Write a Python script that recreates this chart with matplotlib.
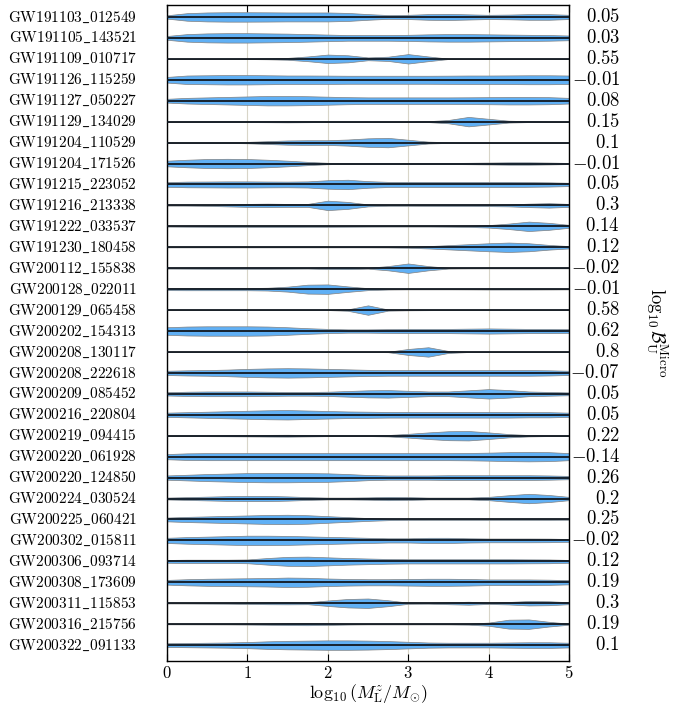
import numpy as np
import matplotlib.pyplot as plt
from matplotlib import transforms

plt.rcParams['mathtext.fontset'] = 'cm'
plt.rcParams['font.family'] = 'serif'

events = ["GW191103_012549", "GW191105_143521", "GW191109_010717", "GW191126_115259",
          "GW191127_050227", "GW191129_134029", "GW191204_110529", "GW191204_171526",
          "GW191215_223052", "GW191216_213338", "GW191222_033537", "GW191230_180458",
          "GW200112_155838", "GW200128_022011", "GW200129_065458", "GW200202_154313",
          "GW200208_130117", "GW200208_222618", "GW200209_085452", "GW200216_220804",
          "GW200219_094415", "GW200220_061928", "GW200220_124850", "GW200224_030524",
          "GW200225_060421", "GW200302_015811", "GW200306_093714", "GW200308_173609",
          "GW200311_115853", "GW200316_215756", "GW200322_091133"]
log_bf = [0.05, 0.03, 0.55, -0.01, 0.08, 0.15, 0.1, -0.01, 0.05, 0.3, 0.14, 0.12,
          -0.02, -0.01, 0.58, 0.62, 0.8, -0.07, 0.05, 0.05, 0.22, -0.14, 0.26, 0.2,
          0.25, -0.02, 0.12, 0.19, 0.3, 0.19, 0.1]

# log10 lens mass grid, densities (relative, per event)
mass_grid = np.arange(0, 5.01, 0.25)
density = [
    [0.35, 0.8, 0.95, 1.0, 1.0, 0.98, 0.95, 0.95, 0.95, 0.85, 0.6, 0.4, 0.45, 0.6, 0.65, 0.55, 0.45, 0.5, 0.6, 0.6, 0.45],
    [0.4, 0.8, 0.95, 1.0, 1.0, 0.95, 0.9, 0.8, 0.7, 0.6, 0.6, 0.6, 0.65, 0.75, 0.8, 0.8, 0.75, 0.7, 0.65, 0.6, 0.5],
    [0, 0, 0, 0.02, 0.05, 0.1, 0.2, 0.5, 0.9, 0.75, 0.3, 0.45, 1.0, 0.5, 0.05, 0, 0, 0, 0, 0, 0],
    [0.6, 0.9, 0.95, 1.0, 1.0, 0.95, 0.9, 0.9, 0.88, 0.85, 0.85, 0.85, 0.85, 0.85, 0.87, 0.9, 0.9, 0.92, 0.95, 0.95, 0.9],
    [0.4, 0.6, 0.7, 0.8, 0.9, 1.0, 1.0, 0.95, 0.85, 0.75, 0.7, 0.7, 0.7, 0.7, 0.7, 0.72, 0.75, 0.8, 0.8, 0.75, 0.6],
    [0.02, 0.05, 0.08, 0.1, 0.1, 0.12, 0.15, 0.12, 0.08, 0.05, 0.04, 0.04, 0.05, 0.1, 0.35, 1.0, 0.6, 0.2, 0.1, 0.05, 0.02],
    [0.02, 0.03, 0.05, 0.08, 0.15, 0.3, 0.45, 0.5, 0.5, 0.65, 0.9, 1.0, 0.6, 0.2, 0.08, 0.05, 0.04, 0.03, 0.03, 0.03, 0.02],
    [0.6, 0.8, 0.95, 1.0, 0.95, 0.8, 0.6, 0.35, 0.15, 0.08, 0.06, 0.06, 0.08, 0.1, 0.12, 0.15, 0.2, 0.25, 0.25, 0.2, 0.12],
    [0.5, 0.6, 0.62, 0.65, 0.65, 0.62, 0.6, 0.65, 0.9, 1.0, 0.7, 0.55, 0.55, 0.55, 0.55, 0.55, 0.55, 0.55, 0.5, 0.45, 0.35],
    [0.03, 0.05, 0.1, 0.2, 0.3, 0.35, 0.3, 0.3, 0.95, 0.7, 0.2, 0.08, 0.08, 0.1, 0.12, 0.12, 0.15, 0.2, 0.35, 0.45, 0.3],
    [0.05, 0.08, 0.1, 0.12, 0.12, 0.12, 0.12, 0.1, 0.1, 0.08, 0.06, 0.05, 0.05, 0.05, 0.08, 0.12, 0.25, 0.55, 0.95, 0.7, 0.3],
    [0.02, 0.02, 0.02, 0.02, 0.02, 0.02, 0.02, 0.02, 0.02, 0.02, 0.03, 0.05, 0.1, 0.25, 0.45, 0.65, 0.85, 1.0, 0.85, 0.5, 0.25],
    [0.08, 0.1, 0.12, 0.12, 0.12, 0.12, 0.1, 0.08, 0.18, 0.2, 0.1, 0.45, 1.0, 0.45, 0.08, 0.05, 0.04, 0.04, 0.04, 0.03, 0.03],
    [0.2, 0.22, 0.22, 0.22, 0.22, 0.28, 0.5, 0.9, 0.95, 0.55, 0.2, 0.08, 0.05, 0.05, 0.05, 0.06, 0.08, 0.08, 0.08, 0.07, 0.05],
    [0, 0, 0, 0, 0, 0, 0, 0, 0, 0.15, 1.0, 0.12, 0.05, 0.02, 0, 0, 0, 0, 0, 0, 0],
    [0.8, 0.95, 1.0, 1.0, 1.0, 0.95, 0.8, 0.6, 0.45, 0.35, 0.35, 0.4, 0.45, 0.45, 0.45, 0.5, 0.55, 0.5, 0.45, 0.45, 0.4],
    [0, 0, 0, 0, 0, 0, 0, 0, 0, 0, 0, 0.05, 0.6, 0.95, 0.2, 0.02, 0, 0, 0, 0, 0],
    [0.45, 0.55, 0.6, 0.7, 0.85, 0.95, 1.0, 0.95, 0.85, 0.75, 0.65, 0.6, 0.6, 0.6, 0.6, 0.6, 0.6, 0.6, 0.6, 0.55, 0.45],
    [0.35, 0.45, 0.5, 0.5, 0.5, 0.45, 0.4, 0.4, 0.45, 0.6, 0.75, 0.8, 0.65, 0.5, 0.5, 0.75, 1.0, 0.8, 0.5, 0.4, 0.3],
    [0.45, 0.55, 0.65, 0.75, 0.85, 0.95, 1.0, 0.9, 0.8, 0.7, 0.65, 0.6, 0.6, 0.6, 0.6, 0.6, 0.6, 0.6, 0.55, 0.55, 0.45],
    [0.05, 0.08, 0.1, 0.12, 0.15, 0.18, 0.2, 0.15, 0.1, 0.08, 0.08, 0.15, 0.4, 0.7, 0.95, 1.0, 0.7, 0.35, 0.15, 0.08, 0.05],
    [0.55, 0.7, 0.75, 0.75, 0.75, 0.75, 0.75, 0.75, 0.75, 0.75, 0.75, 0.75, 0.75, 0.75, 0.75, 0.78, 0.85, 0.95, 1.0, 0.95, 0.75],
    [0.45, 0.6, 0.75, 0.85, 0.95, 1.0, 1.0, 0.95, 0.9, 0.75, 0.55, 0.45, 0.45, 0.45, 0.5, 0.5, 0.5, 0.5, 0.5, 0.45, 0.35],
    [0.2, 0.3, 0.4, 0.5, 0.55, 0.55, 0.45, 0.3, 0.2, 0.2, 0.25, 0.35, 0.3, 0.2, 0.2, 0.2, 0.35, 0.7, 1.0, 0.75, 0.35],
    [0.4, 0.55, 0.65, 0.75, 0.85, 0.95, 1.0, 0.9, 0.7, 0.5, 0.3, 0.15, 0.1, 0.08, 0.08, 0.08, 0.08, 0.08, 0.08, 0.08, 0.06],
    [0.55, 0.7, 0.8, 0.9, 1.0, 1.0, 0.95, 0.85, 0.75, 0.65, 0.55, 0.45, 0.45, 0.55, 0.55, 0.45, 0.4, 0.4, 0.4, 0.38, 0.3],
    [0.3, 0.35, 0.35, 0.35, 0.4, 0.7, 0.95, 1.0, 0.85, 0.7, 0.6, 0.5, 0.45, 0.45, 0.45, 0.45, 0.45, 0.45, 0.42, 0.4, 0.3],
    [0.5, 0.65, 0.75, 0.8, 0.85, 0.9, 1.0, 0.95, 0.8, 0.7, 0.65, 0.65, 0.7, 0.75, 0.75, 0.7, 0.6, 0.6, 0.6, 0.55, 0.45],
    [0.05, 0.06, 0.08, 0.1, 0.15, 0.2, 0.22, 0.2, 0.55, 0.85, 0.95, 0.6, 0.12, 0.1, 0.2, 0.3, 0.15, 0.25, 0.45, 0.4, 0.2],
    [0.03, 0.04, 0.05, 0.06, 0.08, 0.12, 0.18, 0.2, 0.15, 0.08, 0.05, 0.05, 0.05, 0.05, 0.06, 0.1, 0.3, 0.85, 0.9, 0.45, 0.1],
    [0.4, 0.45, 0.5, 0.55, 0.65, 0.8, 0.9, 0.95, 1.0, 1.0, 0.95, 0.85, 0.7, 0.55, 0.5, 0.5, 0.5, 0.55, 0.6, 0.6, 0.5],
]

fig = plt.figure(figsize=(6.94, 7.05), dpi=100)
ax = fig.add_axes([0.2406, 0.0624, 0.5793, 0.9305])

half_width = 0.225
for i, d in enumerate(density):
    d = np.array(d) / max(d)
    ax.fill_between(mass_grid, i - half_width * d, i + half_width * d,
                    facecolor='#60b0f5', edgecolor='#808080', linewidth=0.5, zorder=2)
    ax.plot([0, 5], [i, i], color='#111820', lw=1.3, zorder=3, solid_capstyle='butt')

ax.set_xlim(0, 5)
ax.set_ylim(len(events) - 1 + 0.76, -0.57)
ax.set_xticks(range(6))
ax.set_xticklabels([f'${t}$' for t in range(6)], fontsize=12)
ax.tick_params(axis='x', direction='in', top=True, length=5, width=0.8, pad=3)
ax.grid(axis='x', color='#d8d5c8', lw=0.8, zorder=0)
ax.set_axisbelow(True)
ax.set_yticks([])

trans = transforms.blended_transform_factory(ax.transAxes, ax.transData)
for i, (e, v) in enumerate(zip(events, log_bf)):
    ax.text(-30 / 402, i, r'$\mathrm{' + e.replace('_', r'\_') + '}$', transform=trans,
            ha='right', va='center', fontsize=11)
    ax.text(1 + 51 / 402, i, f'${v}$', transform=trans, ha='right', va='center', fontsize=13.5)

ax.set_xlabel(r'$\log_{10}(M_{\rm L}^z/M_{\odot})$', fontsize=13, labelpad=0)
fig.text(0.947, 0.528, r'$\log_{10}\mathcal{B}^{\rm Micro}_{\rm U}$', rotation=270,
         ha='center', va='center', fontsize=13.5)

for s in ax.spines.values():
    s.set_linewidth(1.0)

fig.savefig('out.png', dpi=100)
